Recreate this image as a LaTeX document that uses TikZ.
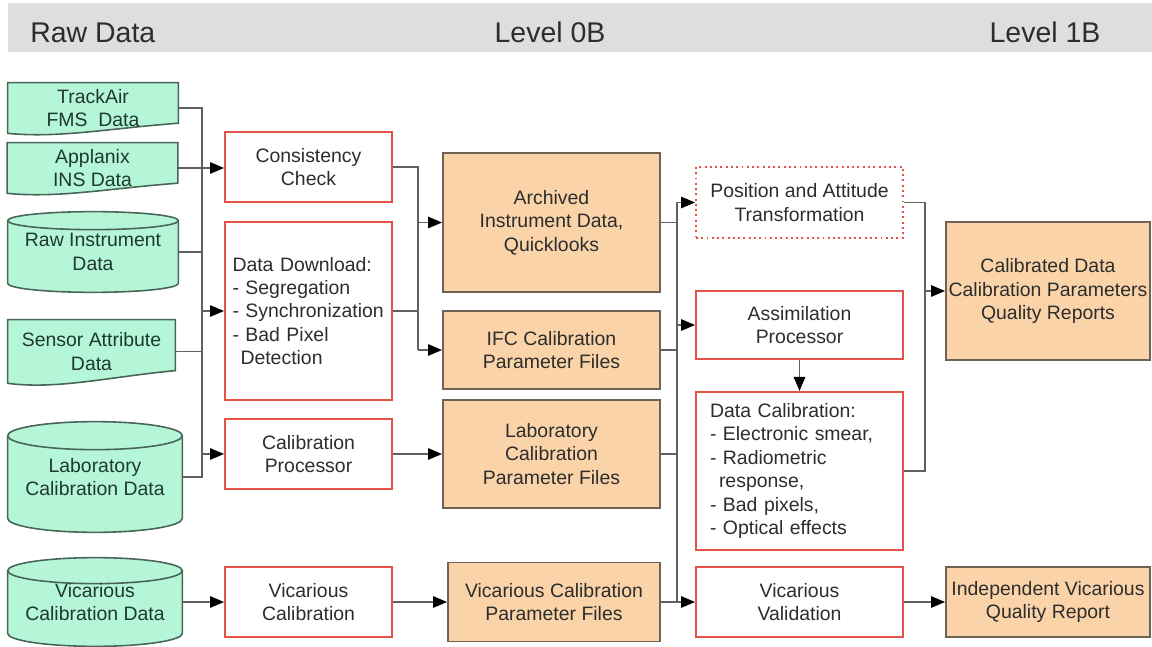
\documentclass[tikz,border=0pt]{standalone}
\usepackage{fontspec}
\setsansfont{Liberation Sans}
\usepackage{tikz}
\usetikzlibrary{arrows.meta,positioning,backgrounds,calc}

\definecolor{rawfill}{RGB}{181,245,216}
\definecolor{rawline}{RGB}{72,102,88}
\definecolor{rawtext}{RGB}{30,58,44}
\definecolor{prodfill}{RGB}{250,212,168}
\definecolor{prodline}{RGB}{112,98,84}
\definecolor{procred}{RGB}{228,82,72}
\definecolor{boxtext}{RGB}{45,45,45}
\definecolor{wiregray}{RGB}{96,96,96}
\definecolor{bandgray}{RGB}{222,222,222}

% sheet with a wavy lower edge, drawn round a node
\newcommand{\docsheet}[1]{%
	\path[rawshape] let \p1=(#1.north west), \p2=(#1.south east), \n1={\y1-\y2}, \n2={\x2-\x1} in
		(\x1,\y1) -- (\x2,\y1) -- (\x2,\y2+0.2*\n1)
		.. controls (\x1+0.6*\n2,\y2+0.1*\n1) and (\x1+0.3*\n2,\y2-0.1*\n1) .. (\x1,\y2) -- cycle;}

% drum (disk store) round a node, #1 = half height of the lid
\newcommand{\drum}[2][0.2]{%
	\path[rawshape] let \p1=(#2.north west), \p2=(#2.south east), \n1={(\x2-\x1)/2} in
		(\x1,\y1-#1cm) -- (\x1,\y2+#1cm) arc[start angle=180, end angle=360, x radius=\n1, y radius=#1cm]
		-- (\x2,\y1-#1cm) arc[start angle=0, end angle=180, x radius=\n1, y radius=#1cm] -- cycle;
	\draw[rawline, line width=0.9pt] let \p1=(#2.north west), \p2=(#2.south east), \n1={(\x2-\x1)/2} in
		(\x1,\y1-#1cm) arc[start angle=180, end angle=360, x radius=\n1, y radius=#1cm];}

\begin{document}
\begin{tikzpicture}[font=\sffamily\fontsize{11.06pt}{13.3pt}\selectfont, >={Triangle[length=2.8mm, width=2.3mm, color=black]},
		rawshape/.style={fill=rawfill, draw=rawline, line width=0.9pt},
		raw/.style={minimum width=3.4cm, minimum height=1cm, inner sep=1pt, align=center, text=rawtext},
		procbox/.style={draw=procred, line width=1.1pt, fill=white, minimum width=3.34cm, minimum height=1.4cm, align=center, text=boxtext},
		prodbox/.style={draw=prodline, line width=1.1pt, fill=prodfill, minimum width=4.34cm, inner xsep=1pt, align=center, text=boxtext},
		wire/.style={draw=wiregray, line width=0.75pt},
		headtext/.style={anchor=base, inner sep=0pt, text=boxtext, font=\sffamily\fontsize{16.2pt}{19pt}\selectfont}]

	\useasboundingbox (0,0) rectangle (23.04,-12.94);

	\fill[bandgray] (0.16,-0.06) rectangle (23.04,-1.04);
	\node[headtext, anchor=base west] (rawhead) at (0.6,-0.86) {Raw Data};
	\node[headtext] (lvl0) at (11.0,-0.86) {Level 0B};
	\node[headtext] (lvl1) at (20.9,-0.86) {Level 1B};

	% input data
	\node[raw] (trackair) at (1.86,-2.16) {TrackAir\\FMS\ \ Data};
	\node[raw] (applanix) at (1.85,-3.36) {Applanix\\INS Data};
	\node[raw, minimum height=1.6cm] (rawinst) at (1.86,-5.04) {Raw Instrument\\Data};
	\node[raw, minimum width=3.34cm, minimum height=1.26cm] (sensor) at (1.83,-7.03) {Sensor Attribute\\Data};
	\node[raw, minimum width=3.48cm, minimum height=2.2cm] (labcal) at (1.9,-9.54) {Laboratory\\Calibration Data};
	\node[raw, minimum width=3.48cm, minimum height=1.76cm] (vicdata) at (1.9,-12.04) {Vicarious\\Calibration Data};

	\begin{scope}[on background layer]
		\docsheet{trackair}
		\docsheet{applanix}
		\docsheet{sensor}
		\drum[0.18]{rawinst}
		\drum[0.28]{labcal}
		\drum[0.26]{vicdata}
	\end{scope}

	% level 0B processing
	\node[procbox] (consist) at (6.17,-3.34) {Consistency\\Check};
	\node[procbox, minimum height=3.56cm, text width=3.04cm, inner xsep=0.15cm, align=left] (download) at (6.17,-6.22)
		{Data Download:\\- Segregation\\- Synchronization\\- Bad Pixel\\\hspace{0.16cm}Detection};
	\node[procbox] (calproc) at (6.17,-9.08) {Calibration\\Processor};
	\node[procbox] (viccal) at (6.17,-12.04) {Vicarious\\Calibration};

	\node[prodbox, minimum height=2.78cm] (archived) at (11.03,-4.45) {Archived\\Instrument Data,\\Quicklooks};
	\node[prodbox, minimum height=1.56cm] (ifc) at (11.03,-7.0) {IFC Calibration\\Parameter Files};
	\node[prodbox, minimum height=2.16cm] (labfiles) at (11.03,-9.08) {Laboratory\\Calibration\\Parameter Files};
	\node[prodbox, minimum width=4.24cm, minimum height=1.58cm] (vicfiles) at (11.08,-12.04) {Vicarious Calibration\\Parameter Files};

	% level 1B processing
	\node[procbox, minimum width=4.14cm, minimum height=1.42cm, dash pattern=on 1.1pt off 1.9pt] (posatt) at (15.99,-4.05) {Position and Attitude\\Transformation};
	\node[procbox, minimum width=4.14cm, minimum height=1.36cm] (assim) at (15.99,-6.5) {Assimilation\\Processor};
	\node[procbox, minimum width=4.14cm, minimum height=3.16cm, text width=3.58cm, inner xsep=0.28cm, align=left, below=0.62cm of assim] (datacal)
		{Data Calibration:\\- Electronic smear,\\- Radiometric\\\hspace{0.18cm}response,\\- Bad pixels,\\- Optical effects};
	\node[procbox, minimum width=4.14cm] (vicval) at (15.99,-12.04) {Vicarious\\Validation};

	\node[prodbox, minimum width=4.08cm, minimum height=2.76cm] (calibrated) at (20.96,-5.82) {Calibrated Data\\Calibration Parameters\\Quality Reports};
	\node[prodbox, minimum width=4.08cm, minimum height=1.4cm] (indep) at (20.96,-12.04) {Independent Vicarious\\Quality Report};

	\coordinate (busA) at (4.04,0);
	\coordinate (busB) at (8.36,0);
	\coordinate (busC) at (13.54,0);
	\coordinate (busD) at (18.5,0);

	\draw[wire] (trackair.east) -| (busA |- labcal.east) -- (labcal.east);
	\draw[wire] (rawinst.east) -- (rawinst.east -| busA);
	\draw[wire] (sensor.east) -- (sensor.east -| busA);
	\draw[wire, ->] (applanix.east) -- (applanix.east -| consist.west);
	\draw[wire, ->] (busA |- download.west) -- (download.west);
	\draw[wire, ->] (busA |- calproc.west) -- (calproc.west);
	\draw[wire, ->] (vicdata.east) -- (viccal.west);

	\draw[wire] (consist.east) -| (busB |- ifc.west);
	\draw[wire] (download.east) -- (download.east -| busB);
	\draw[wire, ->] (busB |- archived.west) -- (archived.west);
	\draw[wire, ->] (busB |- ifc.west) -- (ifc.west);
	\draw[wire, ->] (calproc.east) -- (labfiles.west);
	\draw[wire, ->] (viccal.east) -- (vicfiles.west);

	\draw[wire] (archived.east) -- (archived.east -| busC);
	\draw[wire] (ifc.east) -- (ifc.east -| busC);
	\draw[wire] (labfiles.east) -- (labfiles.east -| busC);
	\draw[wire] (busC |- posatt.west) -- (busC |- vicval.west);
	\draw[wire, ->] (busC |- posatt.west) -- (posatt.west);
	\draw[wire, ->] (busC |- assim.west) -- (assim.west);
	\draw[wire, ->] (vicfiles.east) -- (vicval.west);
	\draw[wire, ->] (assim.south) -- (datacal.north);

	\draw[wire] (posatt.east) -| (busD |- datacal.east) -- (datacal.east);
	\draw[wire, ->] (busD |- calibrated.west) -- (calibrated.west);
	\draw[wire, ->] (vicval.east) -- (indep.west);

\end{tikzpicture}
\end{document}
